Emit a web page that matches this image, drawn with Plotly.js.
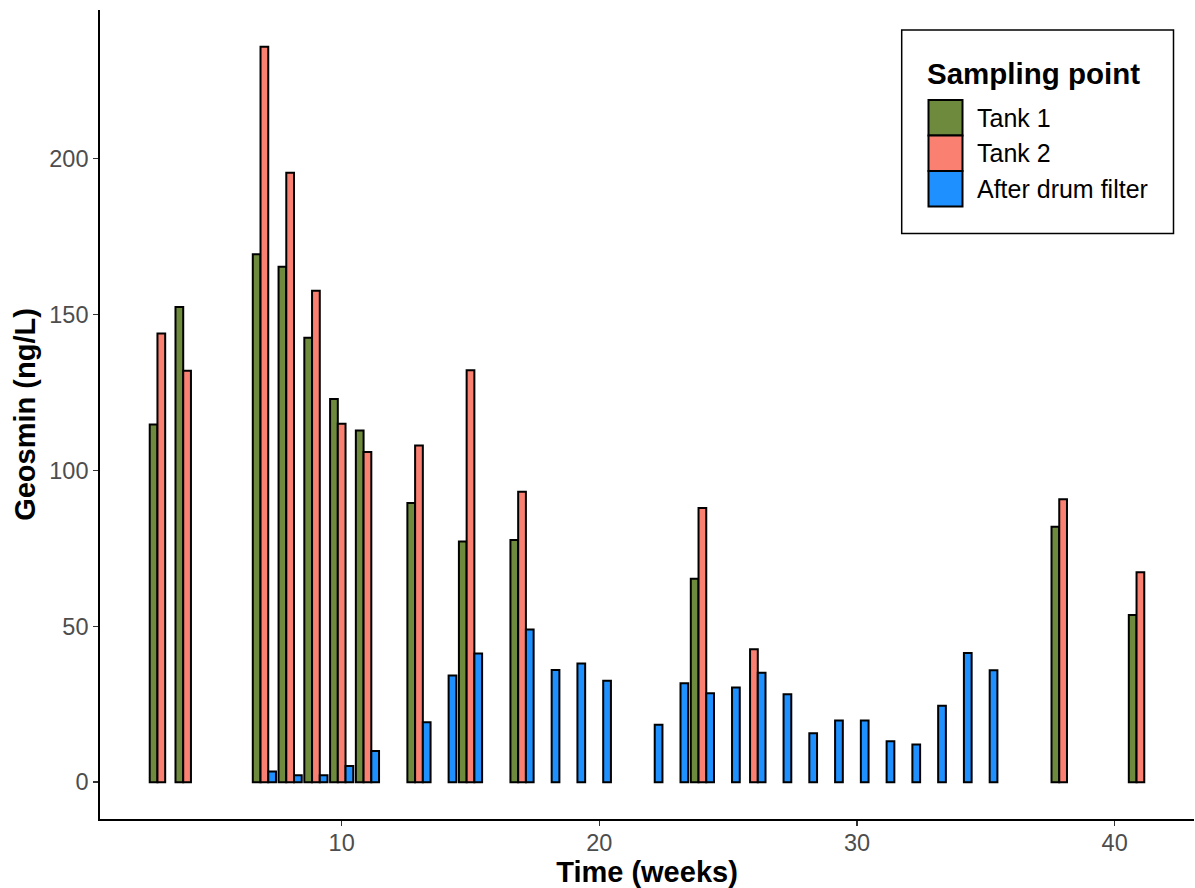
<!DOCTYPE html>
<html>
<head>
<meta charset="utf-8">
<script src="https://cdn.plot.ly/plotly-3.0.1.min.js"></script>
<style>
  html, body { margin: 0; padding: 0; background: #ffffff; }
  #chart { width: 1195px; height: 888px; }
</style>
</head>
<body>
<div id="chart"></div>
<script>
// ---- data ----
const seriesNames = ["Tank 1", "Tank 2", "After drum filter"];
const seriesColors = ["#6E8B3D", "#FA8072", "#1E90FF"];

const tank1Weeks = [3, 4, 7, 8, 9, 10, 11, 13, 15, 17, 24, 38, 41];
const tank1Geosmin = [114.7, 152.4, 169.3, 165.3, 142.5, 122.9, 112.8, 89.5, 77.2, 77.7, 65.2, 81.9, 53.6];

const tank2Weeks = [3, 4, 7, 8, 9, 10, 11, 13, 15, 17, 24, 26, 38, 41];
const tank2Geosmin = [143.9, 131.9, 235.8, 195.4, 157.6, 114.9, 105.9, 108.0, 132.1, 93.1, 87.9, 42.6, 90.7, 67.3];

const drumWeeks = [7, 8, 9, 10, 11, 13, 14, 15, 17, 18, 19, 20, 22, 23, 24, 25, 26, 27, 28, 29, 30, 31, 32, 33, 34, 35];
const drumGeosmin = [3.4, 2.2, 2.2, 5.2, 10.0, 19.2, 34.2, 41.3, 49.0, 36.0, 38.1, 32.5, 18.4, 31.7, 28.5, 30.4, 35.1, 28.2, 15.7, 19.8, 19.8, 13.1, 12.1, 24.5, 41.4, 35.9];

const xTickVals = [10, 20, 30, 40];
const yTickVals = [0, 50, 100, 150, 200];

const xTitle = "Time (weeks)";
const yTitle = "Geosmin (ng/L)";
const legendTitle = "Sampling point";

// ---- layout constants ----
const W = 1195, H = 888;
const M = { l: 100, r: 1, t: 10, b: 69 };
const PW = W - M.l - M.r, PH = H - M.t - M.b;
const FONT = "'Liberation Sans', Arial, Helvetica, sans-serif";
const px2x = p => (p - M.l) / PW;
const px2y = p => (H - M.b - p) / PH;

const xs = [tank1Weeks, tank2Weeks, drumWeeks];
const ys = [tank1Geosmin, tank2Geosmin, drumGeosmin];

const traces = seriesNames.map((name, i) => ({
  type: "bar",
  name: name,
  x: xs[i],
  y: ys[i],
  marker: { color: seriesColors[i], line: { color: "#000000", width: 2 } },
  showlegend: false,
  hoverinfo: "x+y+name"
}));

const allVals = [].concat(tank1Geosmin, tank2Geosmin, drumGeosmin);
const yMax = Math.max.apply(null, allVals);
const yRange = [-0.05 * yMax, 1.05 * yMax];

// ---- custom legend (ggplot-style big keys) ----
const shapes = [];
const annotations = [];
shapes.push({
  type: "rect", xref: "paper", yref: "paper",
  x0: px2x(901.7), x1: px2x(1173.5), y0: px2y(233.5), y1: px2y(30),
  line: { color: "#000000", width: 1.5 }, fillcolor: "#ffffff", layer: "above"
});
annotations.push({
  xref: "paper", yref: "paper", x: px2x(925), y: px2y(73),
  xanchor: "left", yanchor: "middle", showarrow: false,
  text: "<b>" + legendTitle + "</b>",
  font: { family: FONT, size: 29.5, color: "#000000" }
});
const keyTop = 100, keyH = 35.5;
seriesNames.forEach((name, i) => {
  const top = keyTop + i * keyH;
  shapes.push({
    type: "rect", xref: "paper", yref: "paper",
    x0: px2x(928.5), x1: px2x(962.5), y0: px2y(top + keyH), y1: px2y(top),
    line: { color: "#000000", width: 2 }, fillcolor: seriesColors[i], layer: "above"
  });
  annotations.push({
    xref: "paper", yref: "paper", x: px2x(975), y: px2y(top + keyH / 2),
    xanchor: "left", yanchor: "middle", showarrow: false,
    text: name,
    font: { family: FONT, size: 25, color: "#000000" }
  });
});

const layout = {
  width: W, height: H,
  margin: M,
  paper_bgcolor: "#ffffff",
  plot_bgcolor: "#ffffff",
  barmode: "group",
  bargap: 0.1,
  bargroupgap: 0,
  font: { family: FONT, color: "#000000" },
  showlegend: false,
  xaxis: {
    range: [0.62, 43.08],
    tickmode: "array", tickvals: xTickVals, ticktext: xTickVals.map(String),
    showgrid: false, zeroline: false,
    showline: true, linecolor: "#000000", linewidth: 1.8,
    ticks: "outside", ticklen: 5, tickwidth: 1.5, tickcolor: "#333333",
    ticklabelstandoff: -3,
    tickfont: { family: FONT, size: 23.5, color: "#4D4D4D" },
    title: { text: "<b>" + xTitle + "</b>", font: { family: FONT, size: 29, color: "#000000" }, standoff: 6 },
    automargin: false
  },
  yaxis: {
    range: yRange,
    tickmode: "array", tickvals: yTickVals, ticktext: yTickVals.map(String),
    showgrid: false, zeroline: false,
    showline: true, linecolor: "#000000", linewidth: 1.8,
    ticks: "outside", ticklen: 5, tickwidth: 1.5, tickcolor: "#333333",
    tickfont: { family: FONT, size: 23.5, color: "#4D4D4D" },
    title: { text: "<b>" + yTitle + "</b>", font: { family: FONT, size: 29, color: "#000000" }, standoff: 5 },
    automargin: false
  },
  shapes: shapes,
  annotations: annotations
};

Plotly.newPlot("chart", traces, layout, { displayModeBar: false, staticPlot: true });
</script>
</body>
</html>
